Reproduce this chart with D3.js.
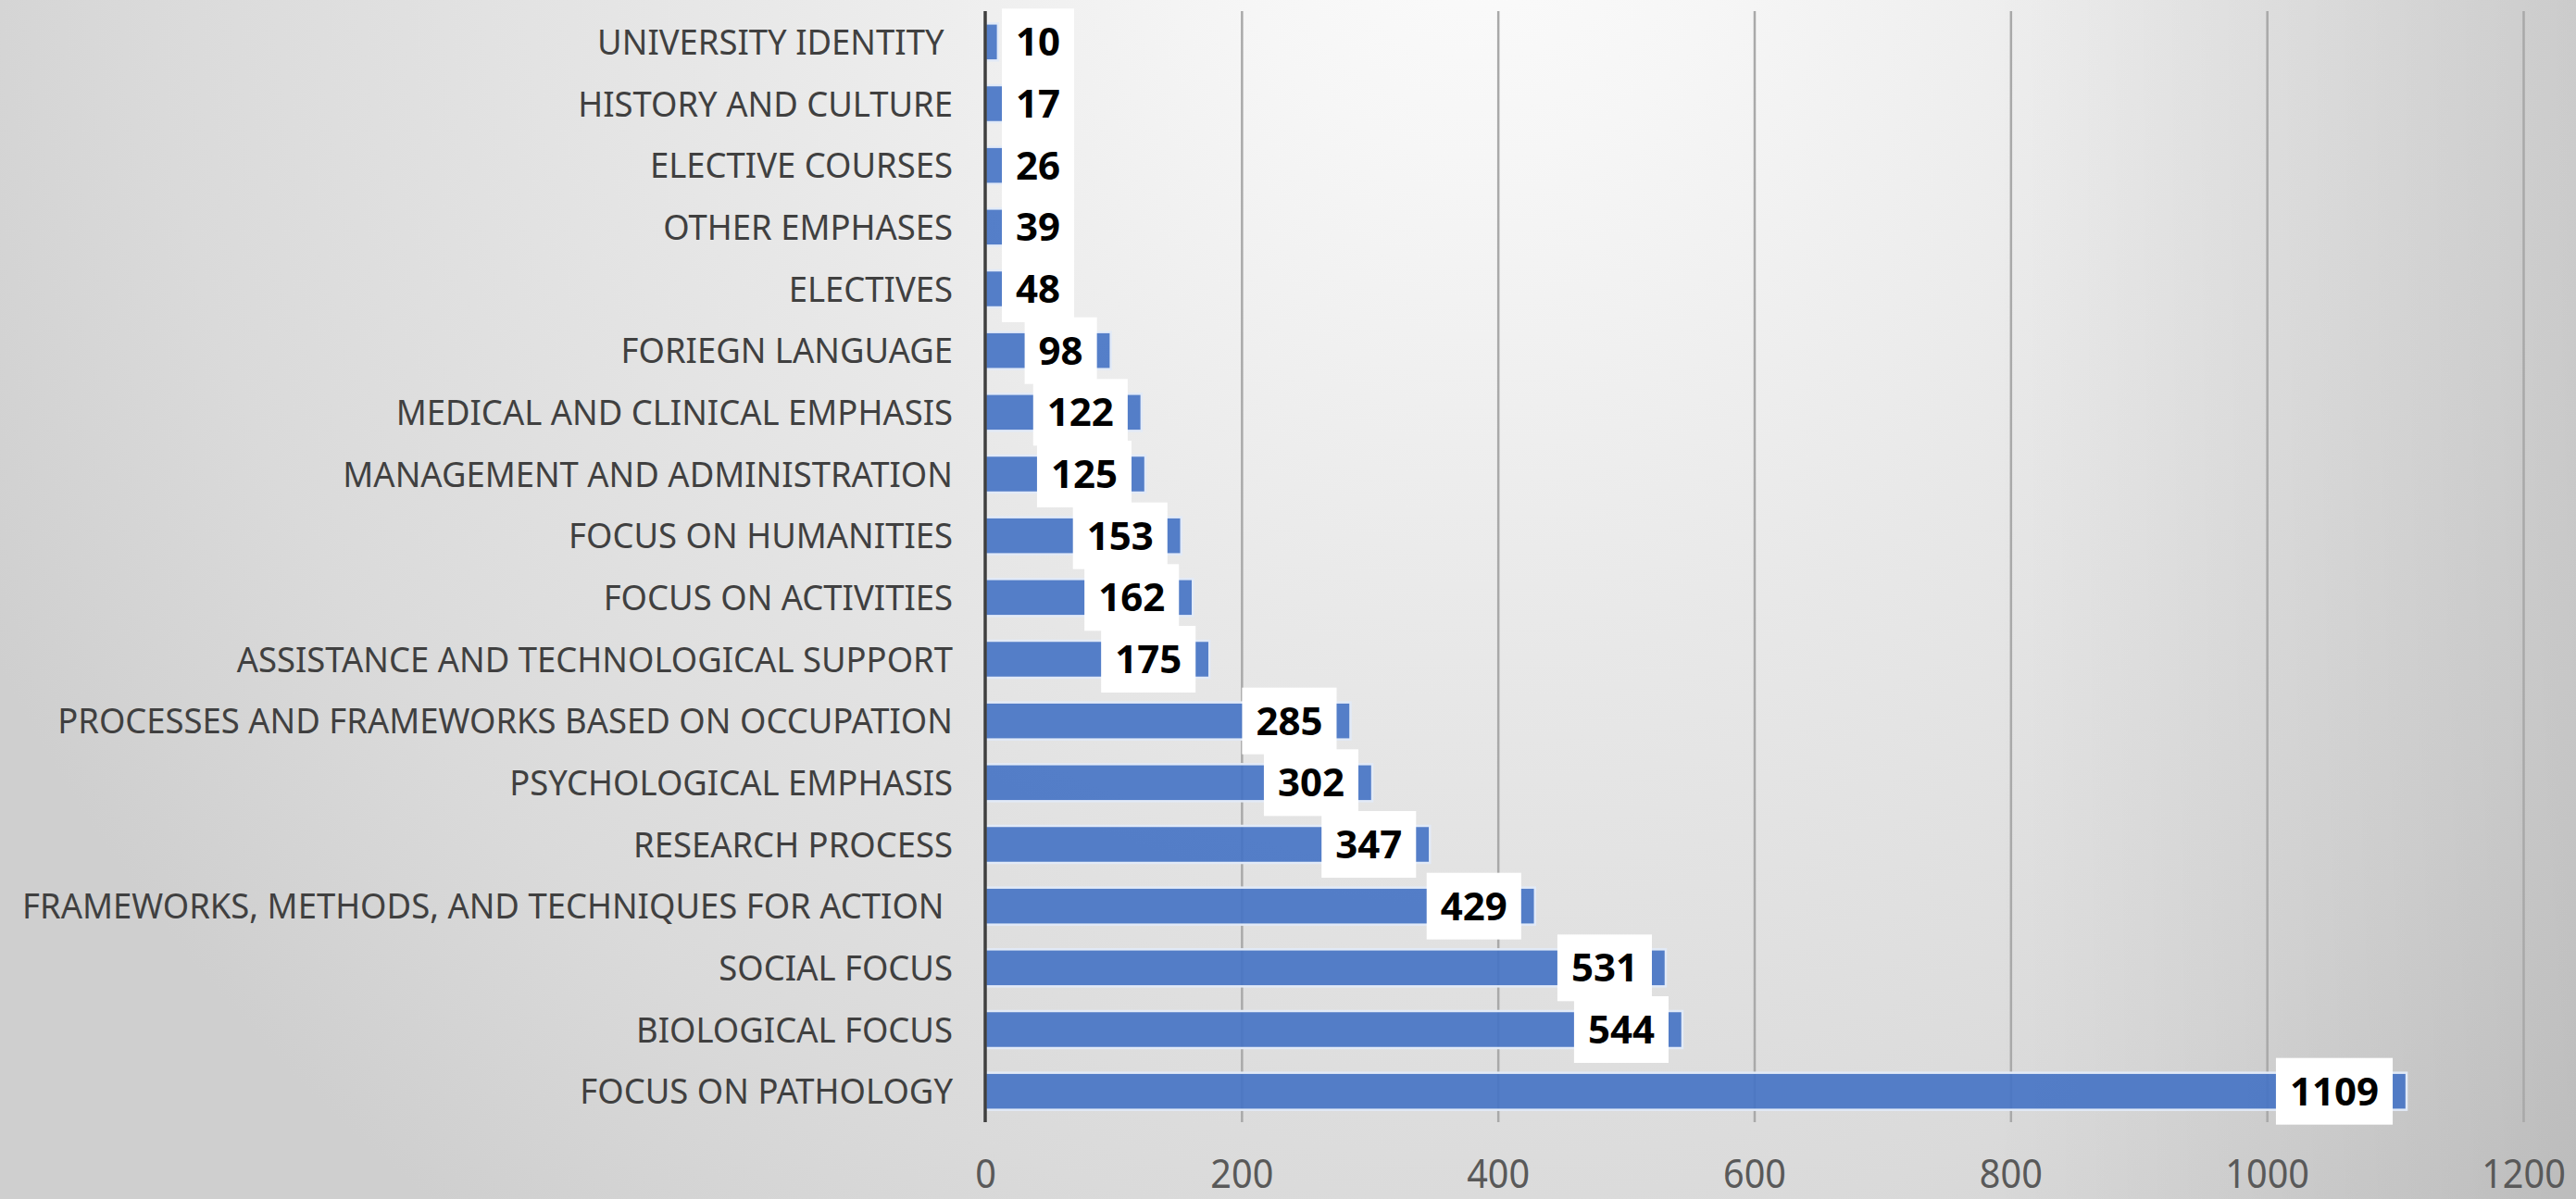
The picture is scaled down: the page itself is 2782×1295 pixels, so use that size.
<!DOCTYPE html>
<html>
<head>
<meta charset="utf-8">
<script src="https://cdn.jsdelivr.net/npm/d3@7"></script>
<style>
body{margin:0;overflow:hidden;}
text{white-space:pre;font-family:"Noto Sans",sans-serif;}
</style>
</head>
<body>
<div id="chart"></div>
<script>
var categories=["UNIVERSITY IDENTITY ","HISTORY AND CULTURE","ELECTIVE COURSES","OTHER EMPHASES","ELECTIVES",
  "FORIEGN LANGUAGE","MEDICAL AND CLINICAL EMPHASIS","MANAGEMENT AND ADMINISTRATION","FOCUS ON HUMANITIES",
  "FOCUS ON ACTIVITIES","ASSISTANCE AND TECHNOLOGICAL SUPPORT","PROCESSES AND FRAMEWORKS BASED ON OCCUPATION",
  "PSYCHOLOGICAL EMPHASIS","RESEARCH PROCESS","FRAMEWORKS, METHODS, AND TECHNIQUES FOR ACTION ","SOCIAL FOCUS",
  "BIOLOGICAL FOCUS","FOCUS ON PATHOLOGY"];
var values=[10,17,26,39,48,98,122,125,153,162,175,285,302,347,429,531,544,1109];
var ticks=[0,200,400,600,800,1000,1200];

var width=2782,height=1295;
var svg=d3.select("#chart").append("svg")
          .attr("width",width)
          .attr("height",height);

// background
var defs=svg.append("defs");
var rg=defs.append("radialGradient").attr("id","bg")
           .attr("gradientUnits","userSpaceOnUse")
           .attr("cx",1600).attr("cy",-100).attr("r",1800);
rg.append("stop").attr("offset",0).attr("stop-color","#fbfbfb");
rg.append("stop").attr("offset",0.15).attr("stop-color","#f6f6f6");
rg.append("stop").attr("offset",0.45).attr("stop-color","#e8e8e8");
rg.append("stop").attr("offset",0.8).attr("stop-color","#dadada");
rg.append("stop").attr("offset",1).attr("stop-color","#cfcfcf");
var lg=defs.append("linearGradient").attr("id","vig")
           .attr("gradientUnits","userSpaceOnUse")
           .attr("x1",2150).attr("x2",width).attr("y1",0).attr("y2",0);
lg.append("stop").attr("offset",0).attr("stop-color","#000").attr("stop-opacity",0);
lg.append("stop").attr("offset",1).attr("stop-color","#000").attr("stop-opacity",0.09);
svg.append("rect").attr("width",width).attr("height",height).attr("fill","url(#bg)");
svg.append("rect").attr("width",width).attr("height",height).attr("fill","url(#vig)");

var x=d3.scaleLinear().domain([0,1200]).range([1064,2725]);
var y=d3.scaleBand().domain(categories).range([12,1212]).paddingInner(0.4).paddingOuter(0.2);

// gridlines + tick labels
var xAxis=d3.axisBottom(x).tickValues(ticks).tickFormat(d3.format("d")).tickSize(-1200).tickPadding(40);
var ax=svg.append("g").attr("transform","translate(0,1212)").call(xAxis);
ax.select(".domain").remove();
ax.selectAll(".tick line")
  .attr("stroke","#a9a9a9")
  .attr("stroke-width",2.5)
  .attr("opacity",function(d){ return d===0 ? 0 : 1; });
ax.selectAll(".tick text")
  .attr("font-size",44)
  .attr("font-family","Noto Sans")
  .attr("fill","#595959")
  .attr("transform","scale(0.9,1)");

// bars
svg.append("g").selectAll("rect")
   .data(values)
   .enter()
   .append("rect")
   .attr("x",x(0))
   .attr("y",function(d,i){ return y(categories[i]); })
   .attr("width",function(d){ return x(d)-x(0); })
   .attr("height",y.bandwidth())
   .attr("fill","#4472c4")
   .attr("fill-opacity",0.9)
   .attr("stroke","#e2eaf7")
   .attr("stroke-width",2.5);

// axis line
svg.append("line")
   .attr("x1",x(0)).attr("x2",x(0))
   .attr("y1",12).attr("y2",1212)
   .attr("stroke","#3f3f3f")
   .attr("stroke-width",3.5);

// category labels
var cat=svg.append("g").selectAll("text")
   .data(categories)
   .enter()
   .append("text")
   .text(function(d){ return d; })
   .attr("text-anchor","end")
   .attr("font-size",38)
   .attr("fill","#404040");
var maxW=0;
cat.each(function(){ maxW=Math.max(maxW,this.getComputedTextLength()); });
var s=1005/maxW;
cat.attr("transform",function(d){
  return "translate("+(x(0)-35)+","+(y(d)+y.bandwidth()/2+13.5)+") scale("+s+",1)";
});

// value labels
var lab=svg.append("g").selectAll("g")
   .data(values)
   .enter()
   .append("g");
lab.append("text")
   .text(function(d){ return d; })
   .attr("font-size",42)
   .attr("font-weight","bold")
   .attr("fill","#000")
   .attr("text-anchor","middle");
lab.each(function(d,i){
  var g=d3.select(this);
  var t=g.select("text");
  var cy=y(categories[i])+y.bandwidth()/2;
  var w=t.node().getComputedTextLength()+30;
  var right=x(d)-15;
  var left=Math.max(right-w,x(0)+18);
  g.insert("rect","text")
   .attr("x",left).attr("y",cy-36)
   .attr("width",w).attr("height",72)
   .attr("fill","#fff");
  t.attr("x",left+w/2).attr("y",cy+15);
});
</script>
</body>
</html>
